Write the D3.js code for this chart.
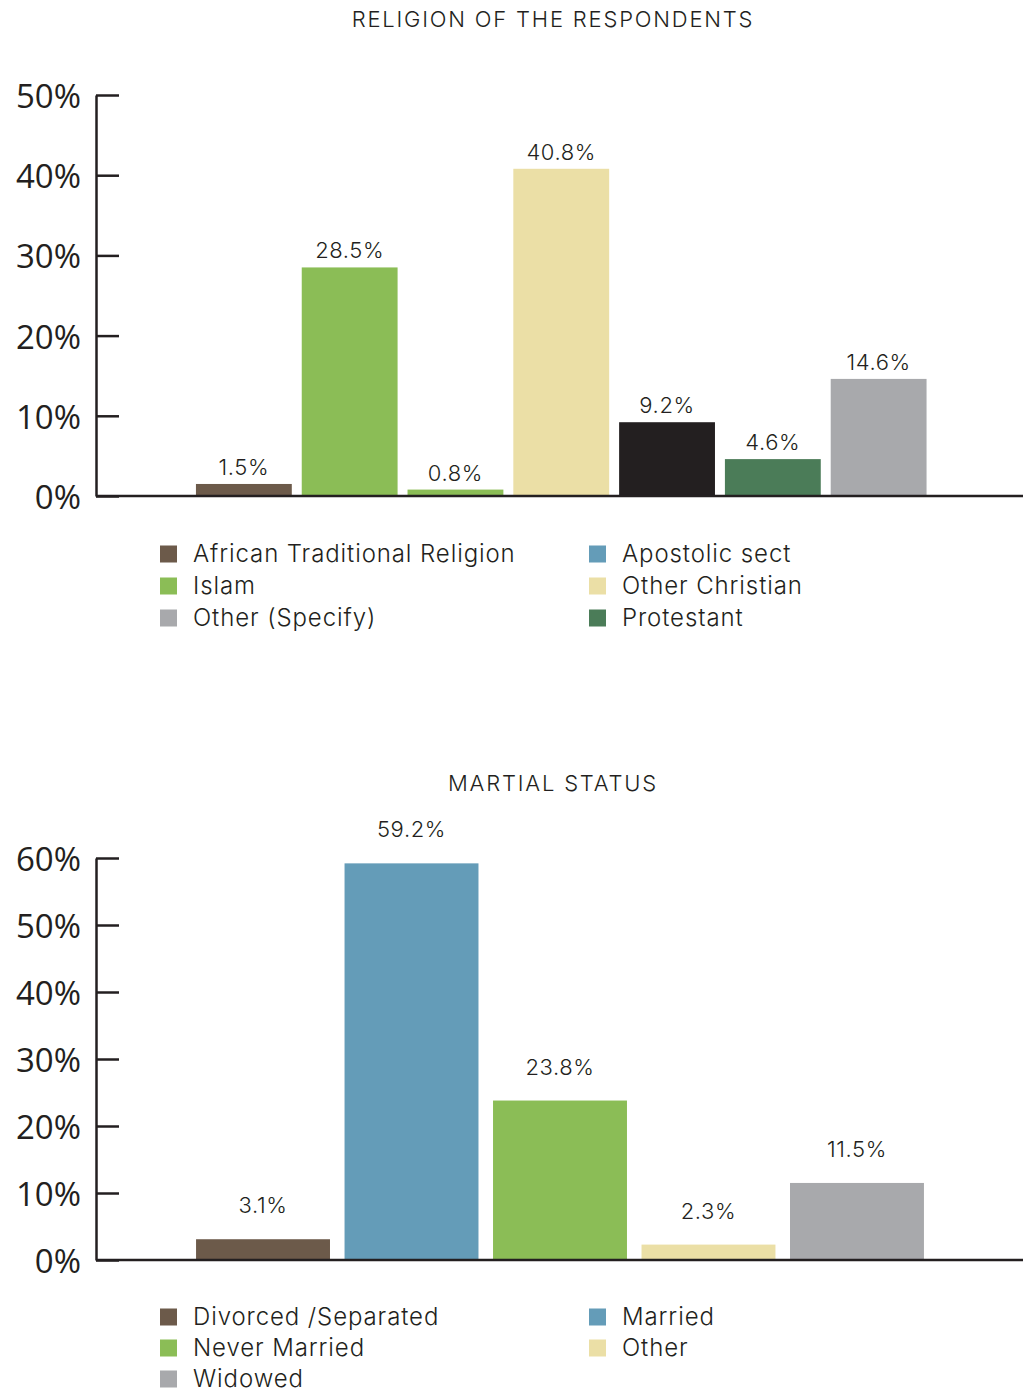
<!DOCTYPE html>
<html>
<head>
<meta charset="utf-8">
<script src="https://cdn.jsdelivr.net/npm/d3@7"></script>
<style>
  html, body { margin: 0; padding: 0; background: #ffffff; }
  svg { display: block; }
  .title { font-family: "Inter", "Noto Sans", sans-serif; font-weight: 300; font-size: 22px; fill: #231f20; letter-spacing: 1.8px; }
  .tick text { font-family: "Open Sans", "Noto Sans", sans-serif; font-size: 33px; fill: #231f20; }
  .val { font-family: "Inter", "Noto Sans", sans-serif; font-weight: 300; font-size: 22px; fill: #231f20; letter-spacing: 0.6px; }
  .leg { font-family: "Inter", "Noto Sans", sans-serif; font-weight: 300; font-size: 24px; fill: #231f20; letter-spacing: 0.9px; }
</style>
</head>
<body>
<script>
// Religion of the respondents
const religionCategories = ["African Traditional Religion", "Islam", "Apostolic sect", "Other Christian", "Pentecostal", "Protestant", "Other (Specify)"];
const religionValues = [1.5, 28.5, 0.8, 40.8, 9.2, 4.6, 14.6];
const religionColors = ["#6c5a4a", "#8bbd56", "#8bbd56", "#ebdfa6", "#231f20", "#4b7c58", "#a8a9ac"];
const religionTicks = [0, 10, 20, 30, 40, 50];
const religionLegend = ["African Traditional Religion", "Islam", "Other (Specify)", "Apostolic sect", "Other Christian", "Protestant"];
const religionLegendColors = ["#6c5a4a", "#8bbd56", "#a8a9ac", "#649cb8", "#ebdfa6", "#4b7c58"];

// Marital status
const maritalCategories = ["Divorced /Separated", "Married", "Never Married", "Other", "Widowed"];
const maritalValues = [3.1, 59.2, 23.8, 2.3, 11.5];
const maritalColors = ["#6c5a4a", "#649cb8", "#8bbd56", "#ebdfa6", "#a8a9ac"];
const maritalTicks = [0, 10, 20, 30, 40, 50, 60];
const maritalLegend = ["Divorced /Separated", "Never Married", "Widowed", "Married", "Other"];
const maritalLegendColors = ["#6c5a4a", "#8bbd56", "#a8a9ac", "#649cb8", "#ebdfa6"];

const W = 1023, H = 1394;
const svg = d3.select("body").append("svg").attr("width", W).attr("height", H);

function barChart(opt) {
  const g = svg.append("g");
  const axisX = 96;

  g.append("text").attr("class", "title")
    .attr("x", 553).attr("y", opt.titleY)
    .attr("text-anchor", "middle").text(opt.title);

  const y = d3.scaleLinear().domain([0, d3.max(opt.ticks)]).range([opt.bottom, opt.top]);
  const x = d3.scaleBand().domain(opt.categories).range(opt.xRange).padding(opt.pad);

  // value bars
  g.selectAll("rect.bar").data(opt.values).join("rect")
    .attr("class", "bar")
    .attr("x", (d, i) => x(opt.categories[i]))
    .attr("width", x.bandwidth())
    .attr("y", d => y(d))
    .attr("height", d => y(0) - y(d))
    .attr("fill", (d, i) => opt.colors[i]);

  // value labels
  g.selectAll("text.val").data(opt.values).join("text")
    .attr("class", "val")
    .attr("x", (d, i) => x(opt.categories[i]) + x.bandwidth() / 2)
    .attr("y", d => y(d) - opt.labelGap)
    .attr("text-anchor", "middle")
    .text(d => d.toFixed(1) + "%");

  // baseline
  g.append("line")
    .attr("x1", axisX).attr("x2", W)
    .attr("y1", y(0)).attr("y2", y(0))
    .attr("stroke", "#231f20").attr("stroke-width", 2.5);

  // vertical axis with inward ticks
  const ax = g.append("g").attr("transform", `translate(${axisX},0)`)
    .call(d3.axisLeft(y).tickValues(opt.ticks).tickFormat(d => d + "%")
      .tickSizeInner(-23).tickSizeOuter(0).tickPadding(15));
  ax.select(".domain").attr("stroke", "#231f20").attr("stroke-width", 2.5);
  ax.selectAll(".tick line").attr("stroke", "#231f20").attr("stroke-width", 2.5);
  ax.selectAll(".tick text").attr("dy", "0.38em");

  // legend in two columns
  const leg = g.append("g");
  opt.legend.forEach((name, i) => {
    const col = i < 3 ? 0 : 1;
    const row = i < 3 ? i : i - 3;
    const lx = col === 0 ? 160 : 589;
    const ly = opt.legendY + row * opt.legendStep;
    leg.append("rect").attr("x", lx).attr("y", ly - 8.5)
      .attr("width", 17).attr("height", 17).attr("fill", opt.legendColors[i]);
    leg.append("text").attr("class", "leg")
      .attr("x", lx + 33).attr("y", ly).attr("dy", "0.35em").text(name);
  });
}

barChart({
  title: "RELIGION OF THE RESPONDENTS", titleY: 27,
  categories: religionCategories, values: religionValues, colors: religionColors,
  ticks: religionTicks, top: 95, bottom: 496,
  xRange: [186, 936.5], pad: 0.094, labelGap: 9,
  legend: religionLegend, legendColors: religionLegendColors, legendY: 554, legendStep: 32
});

barChart({
  title: "MARTIAL STATUS", titleY: 791,
  categories: maritalCategories, values: maritalValues, colors: maritalColors,
  ticks: maritalTicks, top: 858, bottom: 1260,
  xRange: [181.5, 938.5], pad: 0.098, labelGap: 26,
  legend: maritalLegend, legendColors: maritalLegendColors, legendY: 1317, legendStep: 31
});
</script>
</body>
</html>
